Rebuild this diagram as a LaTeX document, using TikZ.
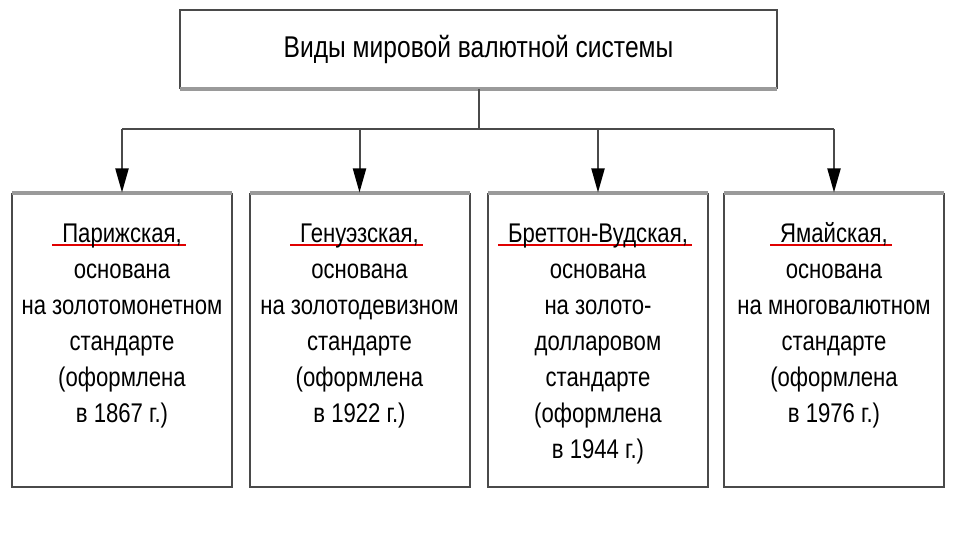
\documentclass[tikz,border=0pt]{standalone}
\usepackage{fontspec}
\setmainfont{Liberation Sans}[FakeStretch=0.82]
\usetikzlibrary{arrows.meta}
\definecolor{edge}{HTML}{4A4A4A}
\definecolor{lightedge}{HTML}{9A9A9A}
\definecolor{ulred}{HTML}{E00000}
\newcommand\redul[1]{\setbox0\hbox{#1}\rlap{\kern-10pt\color{ulred}\rule[-4pt]{\dimexpr\wd0+14pt\relax}{2.6pt}}\box0}
\tikzset{
  topbox/.style={draw=edge, line width=2pt, minimum width=597pt, minimum height=78pt, inner sep=0pt,
    font=\fontsize{30}{36}\selectfont},
  kindbox/.style={draw=edge, line width=2pt, minimum width=220pt, minimum height=293pt, inner sep=0pt},
  kindtext/.style={anchor=north, align=center, inner sep=0pt, font=\fontsize{27}{36}\selectfont},
  link/.style={draw=edge, line width=2pt},
  arrowlink/.style={link, -{Triangle[length=24pt,width=13pt,fill=black,color=black]}},
  shade/.style={draw=lightedge, line width=4pt}
}
\begin{document}
\begin{tikzpicture}[x=1pt,y=-1pt]
\useasboundingbox (0,0) rectangle (960,540);
\fill[white] (0,0) rectangle (960,540);
\node[topbox] (top) at (478.5,49) {Виды мировой валютной системы};
\draw[shade] ([xshift=1pt]top.south west) -- ([xshift=-1pt]top.south east);
\node[kindbox] (b1) at (122,340) {};
\node[kindbox] (b2) at (359.5,340) {};
\node[kindbox] (b3) at (598,340) {};
\node[kindbox] (b4) at (834,340) {};
\foreach \b in {b1,b2,b3,b4}{
  \draw[shade] ([xshift=1pt]\b.north west) -- ([xshift=-1pt]\b.north east);
}
\coordinate (hub) at (top.south |- 0,129);
\coordinate (h1) at (b1.north |- hub);
\coordinate (h4) at (b4.north |- hub);
\draw[link] (top.south) -- (hub);
\draw[link] (h1) -- (h4);
\draw[arrowlink] (h1) -- (b1.north);
\draw[arrowlink] (b2.north |- hub) -- (b2.north);
\draw[arrowlink] (b3.north |- hub) -- (b3.north);
\draw[arrowlink] (h4) -- (b4.north);
\node[kindtext] (t1) at (122,222) {\rule{0pt}{20pt}\redul{Парижская,}\\основана\\на золотомонетном\\стандарте\\(оформлена\\в 1867 г.)};
\node[kindtext] (t2) at (359.5,222) {\rule{0pt}{20pt}\redul{Генуэзская,}\\основана\\на золотодевизном\\стандарте\\(оформлена\\в 1922 г.)};
\node[kindtext] (t3) at (598,222) {\rule{0pt}{20pt}\redul{Бреттон-Вудская,}\\основана\\на золото-\\долларовом\\стандарте\\(оформлена\\в 1944 г.)};
\node[kindtext] (t4) at (834,222) {\rule{0pt}{20pt}\redul{Ямайская,}\\основана\\на многовалютном\\стандарте\\(оформлена\\в 1976 г.)};
\end{tikzpicture}
\end{document}
